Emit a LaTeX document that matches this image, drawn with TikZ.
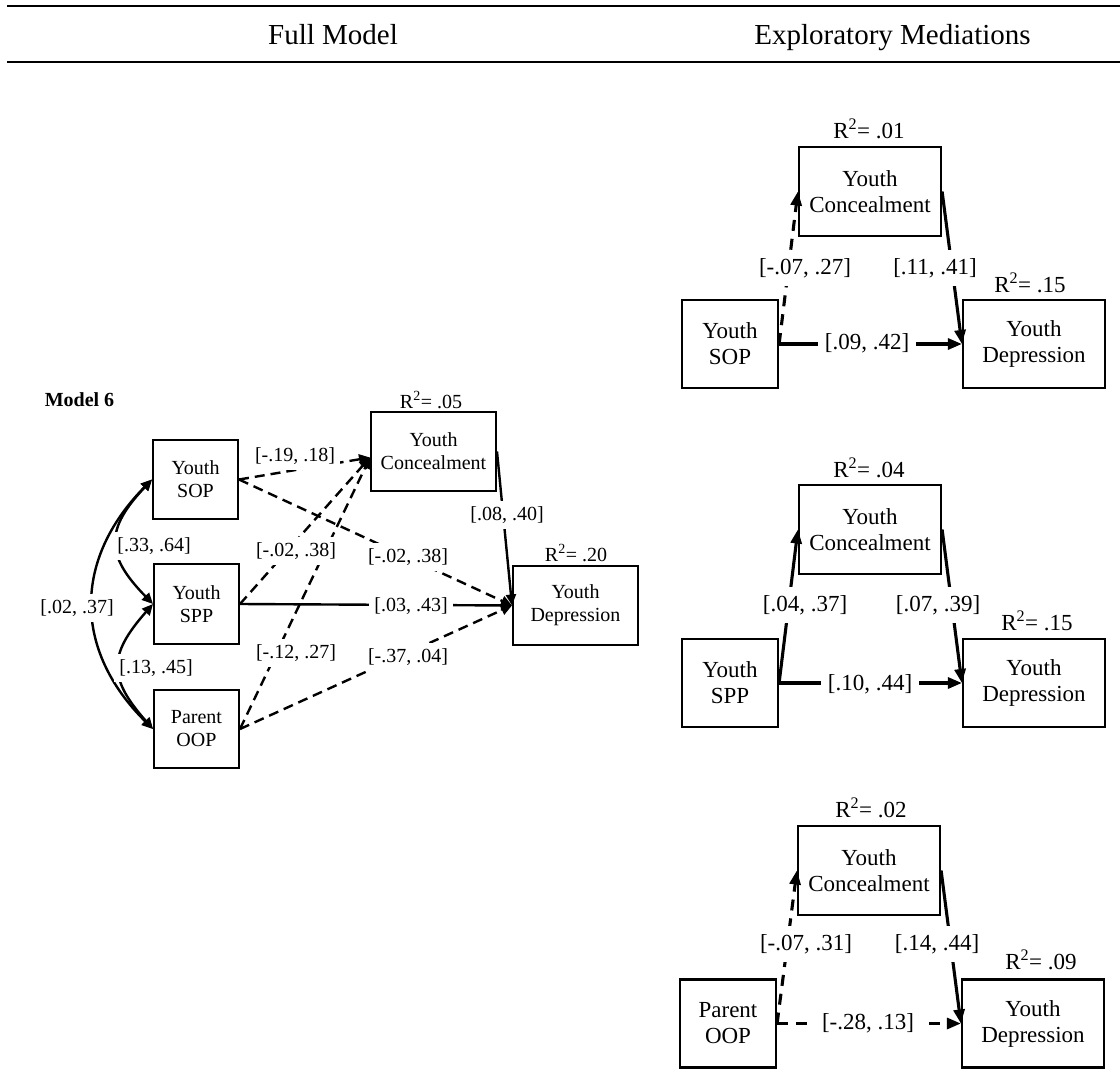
\documentclass[tikz,border=0pt]{standalone}
\usepackage{fontspec}
\setmainfont{Liberation Serif}
\usetikzlibrary{arrows.meta}
\begin{document}
\begin{tikzpicture}[x=1pt,y=-1pt,
  lfont/.style={font=\fontsize{20}{23}\selectfont},
  rfont/.style={font=\fontsize{23}{26}\selectfont},
  hfont/.style={font=\fontsize{29}{33}\selectfont},
  lbox/.style={draw, line width=2pt, inner sep=0pt, align=center, lfont},
  rbox/.style={draw, line width=2.2pt, inner sep=0pt, align=center, rfont},
  larr/.style={line width=2.4pt, -{Triangle[length=11pt,width=10pt]}},
  rarr/.style={line width=3.1pt, -{Triangle[length=14pt,width=11pt]}},
  ldash/.style={dash pattern=on 10pt off 6pt},
  rdash/.style={dash pattern=on 11pt off 8pt},
  llab/.style={fill=white, inner xsep=5pt, inner ysep=6pt, lfont},
  rlab/.style={fill=white, inner xsep=7pt, inner ysep=8pt, rfont},
  cov/.style={line width=2.4pt, {Triangle[length=11pt,width=10pt]}-{Triangle[length=11pt,width=10pt]}},
  rule/.style={line width=2.4pt}
]
\useasboundingbox (0,0) rectangle (1120,1081);

% header
\coordinate (T1) at (7,6);
\coordinate (T2) at (1120,6);
\coordinate (B1) at (7,62);
\coordinate (B2) at (1120,62);
\draw[rule] (T1) -- (T2);
\draw[rule] (B1) -- (B2);
\node[hfont, anchor=base] (H1) at (333,45) {Full Model};
\node[hfont, anchor=base] (H2) at (892.5,45) {Exploratory Mediations};

% ---------- full model ----------
\node[font=\fontsize{20}{23}\selectfont\bfseries] (M6) at (79.5,400) {Model 6};
\node[lbox, minimum width=85pt, minimum height=79pt] (SOP) at (195.5,479.5) {Youth\\SOP};
\node[lbox, minimum width=85pt, minimum height=80pt] (SPP) at (196.5,604) {Youth\\SPP};
\node[lbox, minimum width=85pt, minimum height=78pt] (OOP) at (196.5,729) {Parent\\OOP};
\node[lbox, minimum width=125pt, minimum height=79pt] (LC) at (433.5,451.5) {Youth\\Concealment};
\node[lbox, minimum width=125pt, minimum height=79pt] (LD) at (575.5,605.5) {Youth\\Depression};
\node[lfont] (LRC) at (431,400) {R\textsuperscript{2}= .05};
\node[lfont] (LRD) at (576,553) {R\textsuperscript{2}= .20};

\draw[larr, ldash] (SOP.east) -- ([yshift=-6pt]LC.west);
\draw[larr, ldash] (SPP.east) -- ([yshift=-6pt]LC.west);
\draw[larr, ldash] (OOP.east) -- ([yshift=-6pt]LC.west);
\draw[larr, ldash] (SOP.east) -- (LD.west);
\draw[larr] (SPP.east) -- (LD.west);
\draw[larr, ldash] (OOP.east) -- (LD.west);
\draw[larr] (LC.east) -- (LD.west);

\draw[cov] (SOP.west) .. controls +(-79,80) and +(-80,-79) .. (OOP.west);
\draw[cov] (SOP.west) .. controls +(-47,50) and +(-48,-49) .. (SPP.west);
\draw[cov] (SPP.west) .. controls +(-45,51) and +(-45,-51) .. (OOP.west);

\node[llab] (l1) at (295,456) {[-.19, .18]};
\node[llab] (l2) at (296,551) {[-.02, .38]};
\node[llab] (l3) at (296,653) {[-.12, .27]};
\node[llab] (l4) at (408,557) {[-.02, .38]};
\node[llab] (l5) at (411,606) {[.03, .43]};
\node[llab] (l6) at (408,657) {[-.37, .04]};
\node[llab] (l7) at (507,515) {[.08, .40]};
\node[llab] (l8) at (154,546) {[.33, .64]};
\node[llab] (l9) at (156,668) {[.13, .45]};
\node[llab] (l10) at (77,608) {[.02, .37]};

% ---------- mediation 1 ----------
\node[rbox, minimum width=96pt, minimum height=88pt] (S1) at (730,344) {Youth\\SOP};
\node[rbox, minimum width=142pt, minimum height=89pt] (C1) at (870,191.5) {Youth\\Concealment};
\node[rbox, minimum width=142pt, minimum height=88pt] (D1) at (1034,344) {Youth\\Depression};
\node[rfont] (RC1) at (869,129) {R\textsuperscript{2}= .01};
\node[rfont] (RD1) at (1030,283) {R\textsuperscript{2}= .15};
\draw[rarr, rdash] (S1.east) -- (C1.west);
\draw[rarr] (C1.east) -- (D1.west);
\draw[rarr] (S1.east) -- (D1.west);
\node[rlab] (a1) at (805,268) {[-.07, .27]};
\node[rlab] (b1) at (935,268) {[.11, .41]};
\node[rlab] (c1) at (867,343) {[.09, .42]};

% ---------- mediation 2 ----------
\node[rbox, minimum width=96pt, minimum height=88pt] (S2) at (730,683) {Youth\\SPP};
\node[rbox, minimum width=142pt, minimum height=89pt] (C2) at (870,529.5) {Youth\\Concealment};
\node[rbox, minimum width=142pt, minimum height=88pt] (D2) at (1034,683) {Youth\\Depression};
\node[rfont] (RC2) at (869,468) {R\textsuperscript{2}= .04};
\node[rfont] (RD2) at (1037,621) {R\textsuperscript{2}= .15};
\draw[rarr] (S2.east) -- (C2.west);
\draw[rarr] (C2.east) -- (D2.west);
\draw[rarr] (S2.east) -- (D2.west);
\node[rlab] (a2) at (805,605) {[.04, .37]};
\node[rlab] (b2) at (938,605) {[.07, .39]};
\node[rlab] (c2) at (870,684) {[.10, .44]};

% ---------- mediation 3 ----------
\node[rbox, minimum width=96pt, minimum height=88pt] (S3) at (728,1023.5) {Parent\\OOP};
\node[rbox, minimum width=142pt, minimum height=89pt] (C3) at (869,870.5) {Youth\\Concealment};
\node[rbox, minimum width=142pt, minimum height=88pt] (D3) at (1033,1023.5) {Youth\\Depression};
\node[rfont] (RC3) at (871,808) {R\textsuperscript{2}= .02};
\node[rfont] (RD3) at (1041,960) {R\textsuperscript{2}= .09};
\draw[rarr, rdash] (S3.east) -- (C3.west);
\draw[rarr] (C3.east) -- (D3.west);
\draw[rarr, rdash] (S3.east) -- (D3.west);
\node[rlab] (a3) at (806,944) {[-.07, .31]};
\node[rlab] (b3) at (937,944) {[.14, .44]};
\node[rlab] (c3) at (868,1023) {[-.28, .13]};
\end{tikzpicture}
\end{document}
